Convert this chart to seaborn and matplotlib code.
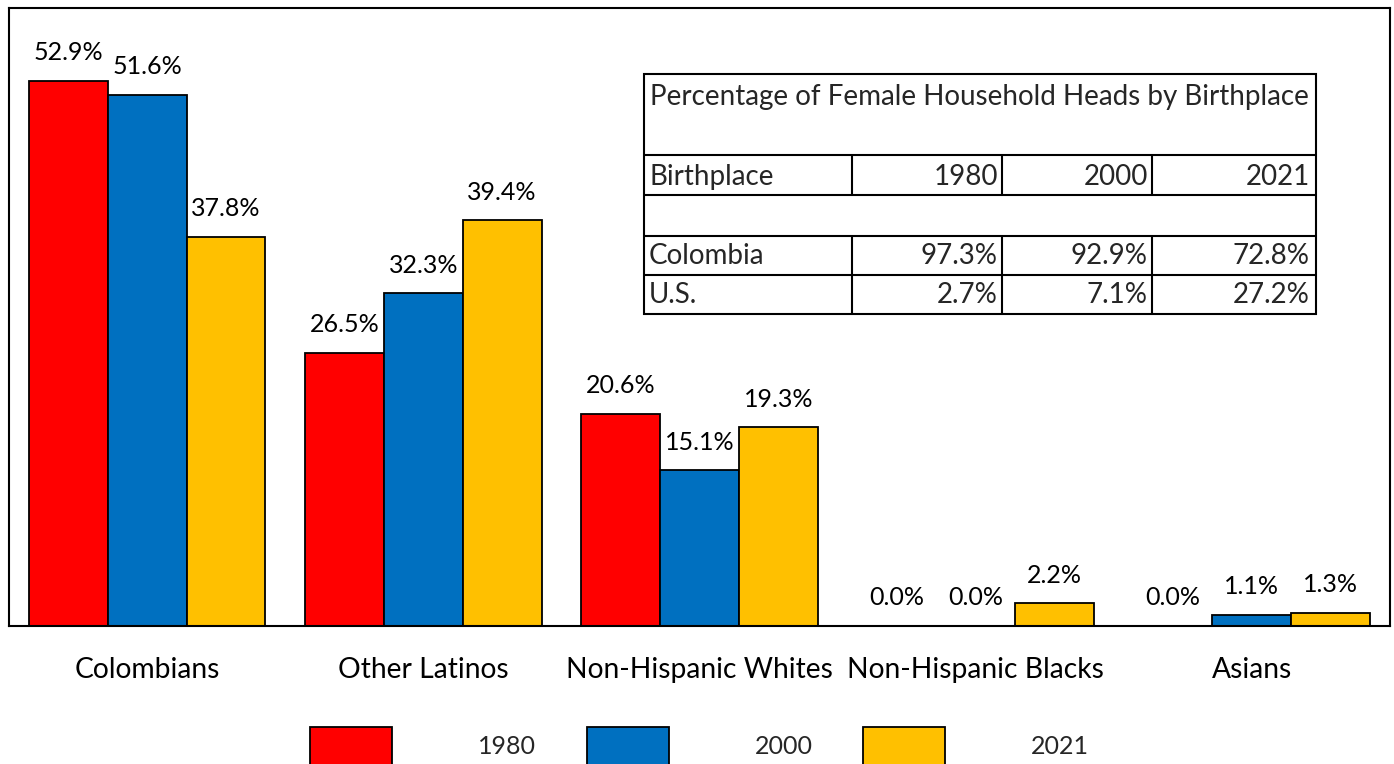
import matplotlib
matplotlib.use("Agg")
import matplotlib.pyplot as plt
import pandas as pd
import seaborn as sns

# Household-head shares by group and census year
groups = ["Colombians", "Other Latinos", "Non-Hispanic Whites",
          "Non-Hispanic Blacks", "Asians"]
years = ["1980", "2000", "2021"]
share_1980 = [52.9, 26.5, 20.6, 0.0, 0.0]
share_2000 = [51.6, 32.3, 15.1, 0.0, 1.1]
share_2021 = [37.8, 39.4, 19.3, 2.2, 1.3]
year_colors = ["#FF0000", "#0070C0", "#FFC000"]

# Inset table: female household heads by birthplace
table_title = "Percentage of Female Household Heads by Birthplace"
table_header = ["Birthplace", "1980", "2000", "2021"]
birthplaces = ["Colombia", "U.S."]
birthplace_1980 = [97.3, 2.7]
birthplace_2000 = [92.9, 7.1]
birthplace_2021 = [72.8, 27.2]

rows = []
for year, vals in zip(years, [share_1980, share_2000, share_2021]):
    for g, v in zip(groups, vals):
        rows.append({"group": g, "year": year, "share": v})
df = pd.DataFrame(rows)

sns.set_theme(style="white")
plt.rcParams["font.family"] = ["Lato", "DejaVu Sans"]

W, H = 1394, 764
fig = plt.figure(figsize=(W / 100, H / 100), dpi=100)
ax = fig.add_axes([9 / W, 138 / H, 1381 / W, 618 / H])

sns.barplot(data=df, x="group", y="share", hue="year", order=groups,
            hue_order=years, palette=year_colors, saturation=1,
            width=0.857, gap=0, edgecolor="black", linewidth=1.3,
            errorbar=None, ax=ax)

ax.set_xlim(-0.5, 4.5)
ax.set_ylim(0, 60)
ax.set_yticks([])
ax.set_xlabel("")
ax.set_ylabel("")
ax.tick_params(axis="x", length=0, pad=22, labelsize=20.3, colors="black")
for side in ["left", "right", "top", "bottom"]:
    ax.spines[side].set_visible(True)
    ax.spines[side].set_color("black")
    ax.spines[side].set_linewidth(1.5)

for cont in ax.containers:
    ax.bar_label(cont, labels=[f"{v:.1f}%" for v in cont.datavalues],
                 padding=12, fontsize=18, color="black")

handles, labels = ax.get_legend_handles_labels()
if ax.legend_ is not None:
    ax.legend_.remove()
fig.legend(handles, labels, loc="upper left",
           bbox_to_anchor=(310 / W, 1 - 727 / H), bbox_transform=fig.transFigure,
           ncol=3, frameon=False, fontsize=18, handlelength=3.28,
           handleheight=2.0, handletextpad=3.44, columnspacing=2.02,
           borderpad=0, borderaxespad=0)

# Inset table drawn in pixel coordinates
tax = fig.add_axes([0, 0, 1, 1], zorder=5)
tax.set_xlim(0, W)
tax.set_ylim(H, 0)
tax.axis("off")
x0, x1 = 644, 1316
col_edges = [852, 1002, 1152]
y_top, y_bot = 74, 314
h_lines = [155, 195, 236, 275]
lw = 1.5
tax.add_patch(plt.Rectangle((x0, y_top), x1 - x0, y_bot - y_top,
                            facecolor="white", edgecolor="black", linewidth=lw))
for y in h_lines:
    tax.plot([x0, x1], [y, y], color="black", lw=lw)
for x in col_edges:
    tax.plot([x, x], [155, 195], color="black", lw=lw)
    tax.plot([x, x], [236, 314], color="black", lw=lw)

fs = 20
tax.text(650, 97, table_title, ha="left", va="center", fontsize=fs)
right_edges = [998, 1148, 1310]
tax.text(649, 177, table_header[0], ha="left", va="center", fontsize=fs)
for xr, lab in zip(right_edges, table_header[1:]):
    tax.text(xr, 177, lab, ha="right", va="center", fontsize=fs)
row_centers = [256, 295]
for i, (place, yc) in enumerate(zip(birthplaces, row_centers)):
    tax.text(649, yc, place, ha="left", va="center", fontsize=fs)
    for xr, vals in zip(right_edges, [birthplace_1980, birthplace_2000, birthplace_2021]):
        tax.text(xr, yc, f"{vals[i]:.1f}%", ha="right", va="center", fontsize=fs)

fig.savefig("out.png", dpi=100)
